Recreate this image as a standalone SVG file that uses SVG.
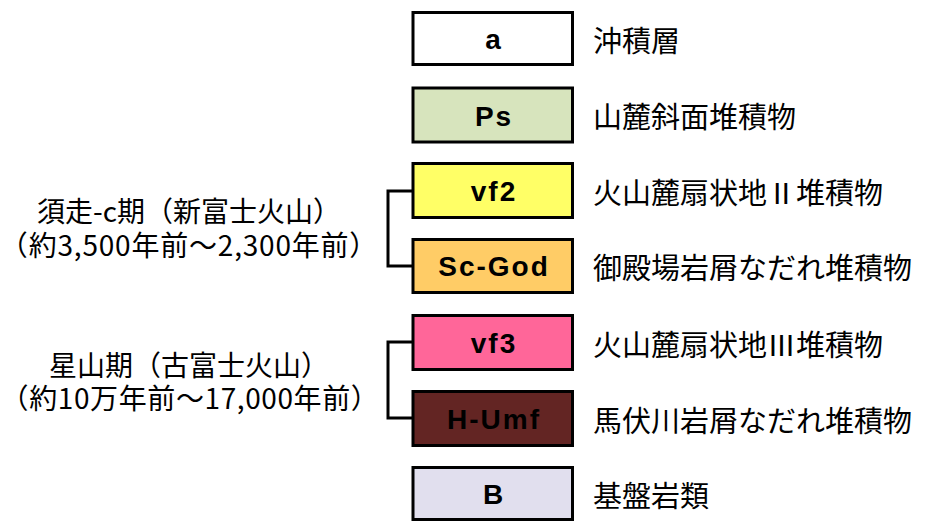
<svg xmlns="http://www.w3.org/2000/svg" width="925" height="522" viewBox="0 0 925 522">
<style>
.box{stroke:#000;stroke-width:3}
.bt{font-family:"Liberation Sans","Noto Sans",sans-serif;font-weight:bold;font-size:28px;letter-spacing:2px;text-anchor:middle;fill:#000}
.rl{font-family:"Noto Sans CJK JP","Noto Sans",sans-serif;font-size:29px;fill:#000}
.ll{font-family:"Noto Sans CJK JP","Noto Sans",sans-serif;font-size:28px;fill:#000;text-anchor:middle}
.con{fill:none;stroke:#000;stroke-width:3}
</style>
<rect width="925" height="522" fill="#fff"/>
<g id="connectors">
<polyline class="con" points="412,191 388,191 388,266 412,266"/>
<polyline class="con" points="412,342 388,342 388,418 412,418"/>
</g>
<g id="node-a">
<rect class="box" x="413" y="12.5" width="159.5" height="52" fill="#ffffff"/>
<text class="bt" x="494" y="49">a</text>
<text class="rl" x="593" y="52">沖積層</text>
</g>
<g id="node-Ps">
<rect class="box" x="413" y="88" width="159.5" height="54" fill="#D7E4BD"/>
<text class="bt" x="494" y="126">Ps</text>
<text class="rl" x="593" y="128">山麓斜面堆積物</text>
</g>
<g id="node-vf2">
<rect class="box" x="413" y="163.5" width="159.5" height="54" fill="#FFFF66"/>
<text class="bt" x="494" y="201">vf2</text>
<text class="rl" x="593" y="204">火山麓扇状地Ⅱ堆積物</text>
</g>
<g id="node-ScGod">
<rect class="box" x="413" y="239.5" width="159.5" height="53" fill="#FFCC66"/>
<text class="bt" x="494" y="276">Sc-God</text>
<text class="rl" x="593" y="279">御殿場岩屑なだれ堆積物</text>
</g>
<g id="node-vf3">
<rect class="box" x="413" y="315.5" width="159.5" height="54" fill="#FF6699"/>
<text class="bt" x="494" y="353">vf3</text>
<text class="rl" x="593" y="356">火山麓扇状地Ⅲ堆積物</text>
</g>
<g id="node-HUmf">
<rect class="box" x="413" y="391.5" width="159.5" height="54" fill="#632523"/>
<text class="bt" x="494" y="429">H-Umf</text>
<text class="rl" x="593" y="432">馬伏川岩屑なだれ堆積物</text>
</g>
<g id="node-B">
<rect class="box" x="413" y="467.5" width="159.5" height="52" fill="#E1DFEE"/>
<text class="bt" x="494" y="504">B</text>
<text class="rl" x="593" y="507">基盤岩類</text>
</g>
<g id="label-sc">
<text class="ll" x="189" y="222">須走-c期（新富士火山）</text>
<text class="ll" x="189" y="256" letter-spacing="0.8">（約3,500年前〜2,300年前）</text>
</g>
<g id="label-hoshiyama">
<text class="ll" x="189" y="376">星山期（古富士火山）</text>
<text class="ll" x="190" y="409" letter-spacing="0.6">（約10万年前〜17,000年前）</text>
</g>
</svg>
